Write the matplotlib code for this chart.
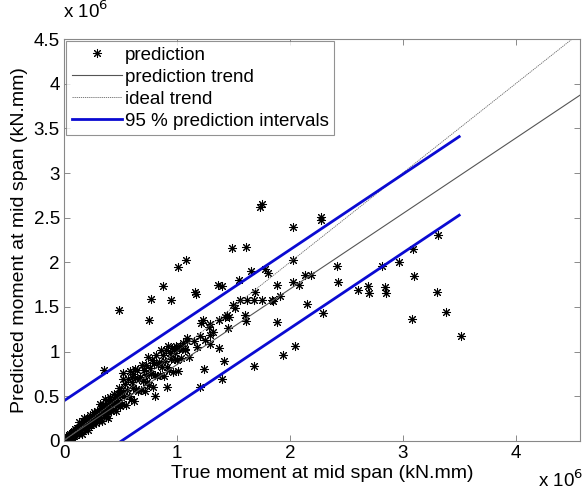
import matplotlib
matplotlib.use("Agg")
import numpy as np
import matplotlib.pyplot as plt
from matplotlib.ticker import FuncFormatter

plt.rcParams['font.family'] = ['Liberation Sans', 'DejaVu Sans']

# values in units of 1e6 kN.mm
# dense group near the origin
near_x = [
    0.000, 0.005, 0.010, 0.012, 0.015, 0.018, 0.022, 0.028, 0.030, 0.035, 0.041, 0.046, 0.052,
    0.058, 0.063, 0.069, 0.074, 0.081, 0.086, 0.091, 0.097, 0.103, 0.108, 0.114, 0.119,
    0.124, 0.131, 0.137, 0.142, 0.149, 0.156, 0.161, 0.168, 0.173, 0.181, 0.186, 0.193, 0.198,
    0.205, 0.211, 0.217, 0.224, 0.229, 0.236, 0.243, 0.249, 0.256, 0.262, 0.268, 0.275, 0.281,
    0.288, 0.294, 0.299,
    0.305, 0.312, 0.318, 0.323, 0.331, 0.337, 0.342, 0.349, 0.356, 0.361, 0.368, 0.374, 0.379,
    0.386, 0.392, 0.398, 0.405, 0.411, 0.417, 0.424, 0.430, 0.437, 0.443, 0.449, 0.456, 0.462,
    0.468, 0.475, 0.481, 0.488, 0.494, 0.500,
    0.02, 0.045, 0.07, 0.095, 0.13, 0.16, 0.19, 0.22, 0.25, 0.28, 0.31, 0.34, 0.37, 0.40, 0.44,
]
near_y = [
    0.020, 0.010, 0.035, 0.000, 0.050, 0.030, 0.015, 0.045, 0.000, 0.020, 0.050, 0.030, 0.075,
    0.040, 0.065, 0.090, 0.050, 0.100, 0.060, 0.110, 0.070, 0.125, 0.085, 0.100, 0.140,
    0.138, 0.074, 0.210, 0.125, 0.182, 0.078, 0.163, 0.220, 0.129, 0.262, 0.122, 0.213, 0.178,
    0.255, 0.120, 0.241, 0.183, 0.288, 0.184, 0.246, 0.257, 0.193, 0.329, 0.245, 0.301, 0.197,
    0.284, 0.339, 0.249,
    0.320, 0.226, 0.412, 0.287, 0.374, 0.220, 0.335, 0.412, 0.288, 0.473, 0.270, 0.395, 0.350,
    0.457, 0.252, 0.428, 0.345, 0.490, 0.336, 0.423, 0.439, 0.345, 0.531, 0.407, 0.493, 0.339,
    0.455, 0.531, 0.407, 0.594, 0.389, 0.515,
    0.005, 0.065, 0.025, 0.135, 0.105, 0.185, 0.145, 0.235, 0.205, 0.255, 0.265, 0.345, 0.315,
    0.375, 0.470,
]
# wider group between 0.5 and 1.1
mid_x = [
    0.508, 0.517, 0.523, 0.534, 0.541, 0.550, 0.558, 0.566, 0.574, 0.583, 0.590, 0.598, 0.607,
    0.615, 0.622, 0.631, 0.639, 0.647, 0.655, 0.663, 0.672, 0.680, 0.688, 0.697, 0.705, 0.713,
    0.722, 0.730, 0.738, 0.747, 0.755, 0.764, 0.772, 0.780, 0.789, 0.797, 0.806, 0.814, 0.823,
    0.831, 0.840, 0.848, 0.857, 0.866, 0.874, 0.883, 0.891, 0.900, 0.909, 0.918, 0.927, 0.936,
    0.945, 0.954, 0.963, 0.972, 0.982, 0.993, 1.004, 1.015, 1.028, 1.040, 1.055, 1.070, 1.088,
    1.105, 0.52, 0.60, 0.63, 1.15, 1.18, 1.20, 1.25, 1.32, 1.45,
]
mid_y = [
    0.558, 0.416, 0.692, 0.508, 0.635, 0.404, 0.576, 0.689, 0.502, 0.781, 0.472, 0.660, 0.594,
    0.752, 0.443, 0.707, 0.580, 0.798, 0.565, 0.693, 0.717, 0.575, 0.852, 0.666, 0.794, 0.562,
    0.735, 0.848, 0.661, 0.940, 0.632, 0.821, 0.754, 0.912, 0.605, 0.868, 0.742, 0.960, 0.728,
    0.856, 0.880, 0.738, 1.016, 0.830, 0.958, 0.727, 0.899, 1.013, 0.827, 1.060, 0.799, 0.988,
    0.922, 1.040, 0.774, 1.038, 0.913, 1.060, 0.904, 1.035, 1.062, 0.924, 1.100, 1.028, 1.120,
    0.942, 0.76, 0.72, 0.81, 1.12, 1.05, 1.18, 1.13, 1.22, 1.26,
]
# scattered points
far_x = [
    3.31, 3.09, 2.97, 3.10, 2.84, 2.85, 3.30, 3.38, 3.08, 3.52,
    1.74, 1.75, 2.28, 2.28, 2.03, 1.49, 1.61, 2.03, 1.66, 1.81, 2.42, 1.36, 1.40, 1.55, 1.89,
    2.03, 2.08, 2.13, 2.19, 2.43, 1.69, 1.75, 1.84, 1.91, 2.15, 2.29, 2.60, 2.69, 2.70, 2.82,
    1.01, 1.08, 0.88, 1.16, 1.17, 0.77, 0.95, 0.49, 0.75, 0.35, 0.81, 0.91, 1.01,
    1.56, 1.62, 1.68, 1.50, 1.51, 1.43, 1.46, 1.60, 1.61, 1.23, 1.29, 1.37, 1.09, 1.29, 1.29,
    1.37, 1.03, 1.07, 1.78, 1.85, 1.89, 2.05, 1.94, 1.68, 1.40, 1.42, 1.24, 1.20, 1.21, 1.44,
    1.28, 0.98,
]
far_y = [
    2.31, 2.15, 2.00, 1.85, 1.72, 1.66, 1.67, 1.44, 1.37, 1.18,
    2.62, 2.65, 2.47, 2.51, 2.39, 2.16, 2.17, 2.03, 1.90, 1.88, 1.96, 1.75, 1.73, 1.80, 1.75,
    1.78, 1.75, 1.86, 1.86, 1.78, 1.67, 1.58, 1.58, 1.62, 1.53, 1.43, 1.69, 1.74, 1.66, 1.96,
    1.95, 2.03, 1.74, 1.67, 1.65, 1.59, 1.58, 1.47, 1.36, 0.80, 0.50, 0.60, 0.78,
    1.58, 1.58, 1.58, 1.52, 1.49, 1.39, 1.39, 1.41, 1.34, 1.36, 1.31, 1.35, 1.15, 1.19, 1.09,
    1.04, 1.04, 1.02, 1.93, 1.57, 1.33, 1.06, 0.96, 0.84, 0.69, 0.90, 0.81, 0.60, 1.32, 1.41,
    1.28, 0.98,
]

# fitted trend and prediction band (units of 1e6 kN.mm)
trend_slope = 0.845
trend_intercept = 0.01
band_halfwidth = 0.44
interval_range = [0.0, 3.5]
ideal_range = [0.0, 4.6]
x_ticks = [0, 1, 2, 3, 4]
y_ticks = [0, 0.5, 1, 1.5, 2, 2.5, 3, 3.5, 4, 4.5]

pred_x = near_x + mid_x + far_x
pred_y = near_y + mid_y + far_y

fig = plt.figure(figsize=(5.84, 4.97), dpi=100)
ax = fig.add_axes([0.1096, 0.1127, 0.8836, 0.8088])

star = (8, 2, 0)
ax.plot(pred_x, pred_y, linestyle='none', marker=star, markersize=6.5,
        markeredgewidth=0.75, color='black', label='prediction')

xt = np.array(ideal_range)
ax.plot(xt, trend_slope * xt + trend_intercept, color='#555555', lw=0.8,
        label='prediction trend')
ax.plot(xt, xt, color='#666666', lw=0.6, linestyle=(0, (1.5, 1)), label='ideal trend')

xi = np.array(interval_range)
ax.plot(xi, trend_slope * xi + trend_intercept + band_halfwidth, color='#0a0ad2', lw=2,
        label='95 % prediction intervals')
ax.plot(xi, trend_slope * xi + trend_intercept - band_halfwidth, color='#0a0ad2', lw=2)

ax.set_xlim(0, 4.57)
ax.set_ylim(0, 4.5)
ax.set_xticks(x_ticks)
ax.set_yticks(y_ticks)
fmt = FuncFormatter(lambda v, p: '%g' % v)
ax.xaxis.set_major_formatter(fmt)
ax.yaxis.set_major_formatter(fmt)
ax.tick_params(direction='in', top=True, right=True, length=4, width=0.6,
               color='#777777', labelsize=13.5, pad=3)
for s in ax.spines.values():
    s.set_color('#888888')
    s.set_linewidth(0.8)

ax.set_xlabel('True moment at mid span (kN.mm)', fontsize=14, labelpad=2)
ax.set_ylabel('Predicted moment at mid span (kN.mm)', fontsize=14, labelpad=4)

fig.text(0.108, 0.955, r'x 10$^6$', fontsize=13.5, ha='left', va='bottom')
fig.text(0.999, 0.012, r'x 10$^6$', fontsize=13.5, ha='right', va='bottom')

leg = ax.legend(loc='upper left', fontsize=13.5, frameon=True, fancybox=False,
                borderpad=0.3, labelspacing=0.26, handlelength=2.7, handletextpad=0.15,
                borderaxespad=0.1)
leg.get_frame().set_edgecolor('#777777')
leg.get_frame().set_linewidth(0.8)

fig.savefig('out.png', dpi=100)
